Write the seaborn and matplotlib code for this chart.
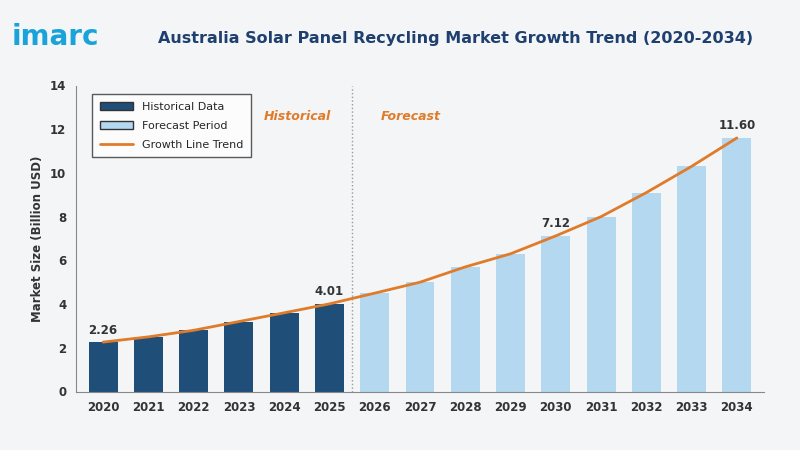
import matplotlib
matplotlib.use("Agg")
from matplotlib import pyplot as plt
from matplotlib.patches import Patch
from matplotlib.lines import Line2D
import seaborn as sns
import pandas as pd

years = [str(y) for y in range(2020, 2035)]
values = [2.26, 2.5, 2.8, 3.2, 3.6, 4.01, 4.5, 5.0, 5.7, 6.3, 7.12, 8.0, 9.1, 10.3, 11.6]
labeled = {"2020": "2.26", "2025": "4.01", "2030": "7.12", "2034": "11.60"}

HIST = "#1f4e79"
FORE = "#b4d8f0"
LINE = "#e07b2a"

df = pd.DataFrame({"Year": years, "Value": values})
df["Kind"] = ["Historical" if int(y) <= 2025 else "Forecast" for y in years]

sns.set_style("white")
plt.rcParams["font.family"] = ["DejaVu Sans"]
fig = plt.figure(figsize=(8, 4.5), dpi=100)
fig.patch.set_facecolor("#f3f5f7")
ax = fig.add_axes([0.095, 0.13, 0.86, 0.68])
ax.set_facecolor("#f3f5f7")

sns.barplot(data=df, x="Year", y="Value", hue="Kind",
            palette={"Historical": HIST, "Forecast": FORE}, saturation=1,
            dodge=False, width=0.64, legend=False, ax=ax, linewidth=0)
ax.plot(range(len(years)), values, color=LINE, linewidth=2)

for i, (y, v) in enumerate(zip(years, values)):
    if y in labeled:
        ax.text(i, v + 0.25, labeled[y], ha="center", va="bottom",
                fontsize=8.5, fontweight="bold", color="#333333")

ax.axvline(5.5, color="#999999", linestyle=":", linewidth=1)
ax.text(4.3, 12.4, "Historical", color=LINE, fontsize=9, style="italic", fontweight="bold", ha="center")
ax.text(6.8, 12.4, "Forecast", color=LINE, fontsize=9, style="italic", fontweight="bold", ha="center")

ax.set_ylim(0, 14)
ax.set_xlim(-0.6, 14.6)
ax.set_yticks(range(0, 15, 2))
ax.set_xlabel("")
ax.set_ylabel("Market Size (Billion USD)", fontsize=8.5, fontweight="bold", color="#333333")
ax.tick_params(labelsize=8.5, colors="#333333")
for lab in ax.get_xticklabels() + ax.get_yticklabels():
    lab.set_fontweight("bold")
for s in ["top", "right"]:
    ax.spines[s].set_visible(False)
ax.spines["left"].set_color("#888888")
ax.spines["bottom"].set_color("#888888")

handles = [Patch(facecolor=HIST, edgecolor="#333333", label="Historical Data"),
           Patch(facecolor=FORE, edgecolor="#333333", label="Forecast Period"),
           Line2D([0], [0], color=LINE, linewidth=2, label="Growth Line Trend")]
leg = ax.legend(handles=handles, loc="upper left", fontsize=8, frameon=True,
                edgecolor="#333333", fancybox=False, bbox_to_anchor=(0.015, 0.99),
                labelspacing=0.8, handlelength=3, borderpad=0.7)
leg.get_frame().set_facecolor("white")

fig.text(0.015, 0.9, "imarc", fontsize=20, fontweight="bold", color="#1aa3d9")
fig.text(0.57, 0.905, "Australia Solar Panel Recycling Market Growth Trend (2020-2034)",
         fontsize=11.5, fontweight="bold", color="#1f3f6e", ha="center")

fig.savefig("out.png", dpi=100, facecolor=fig.get_facecolor())
